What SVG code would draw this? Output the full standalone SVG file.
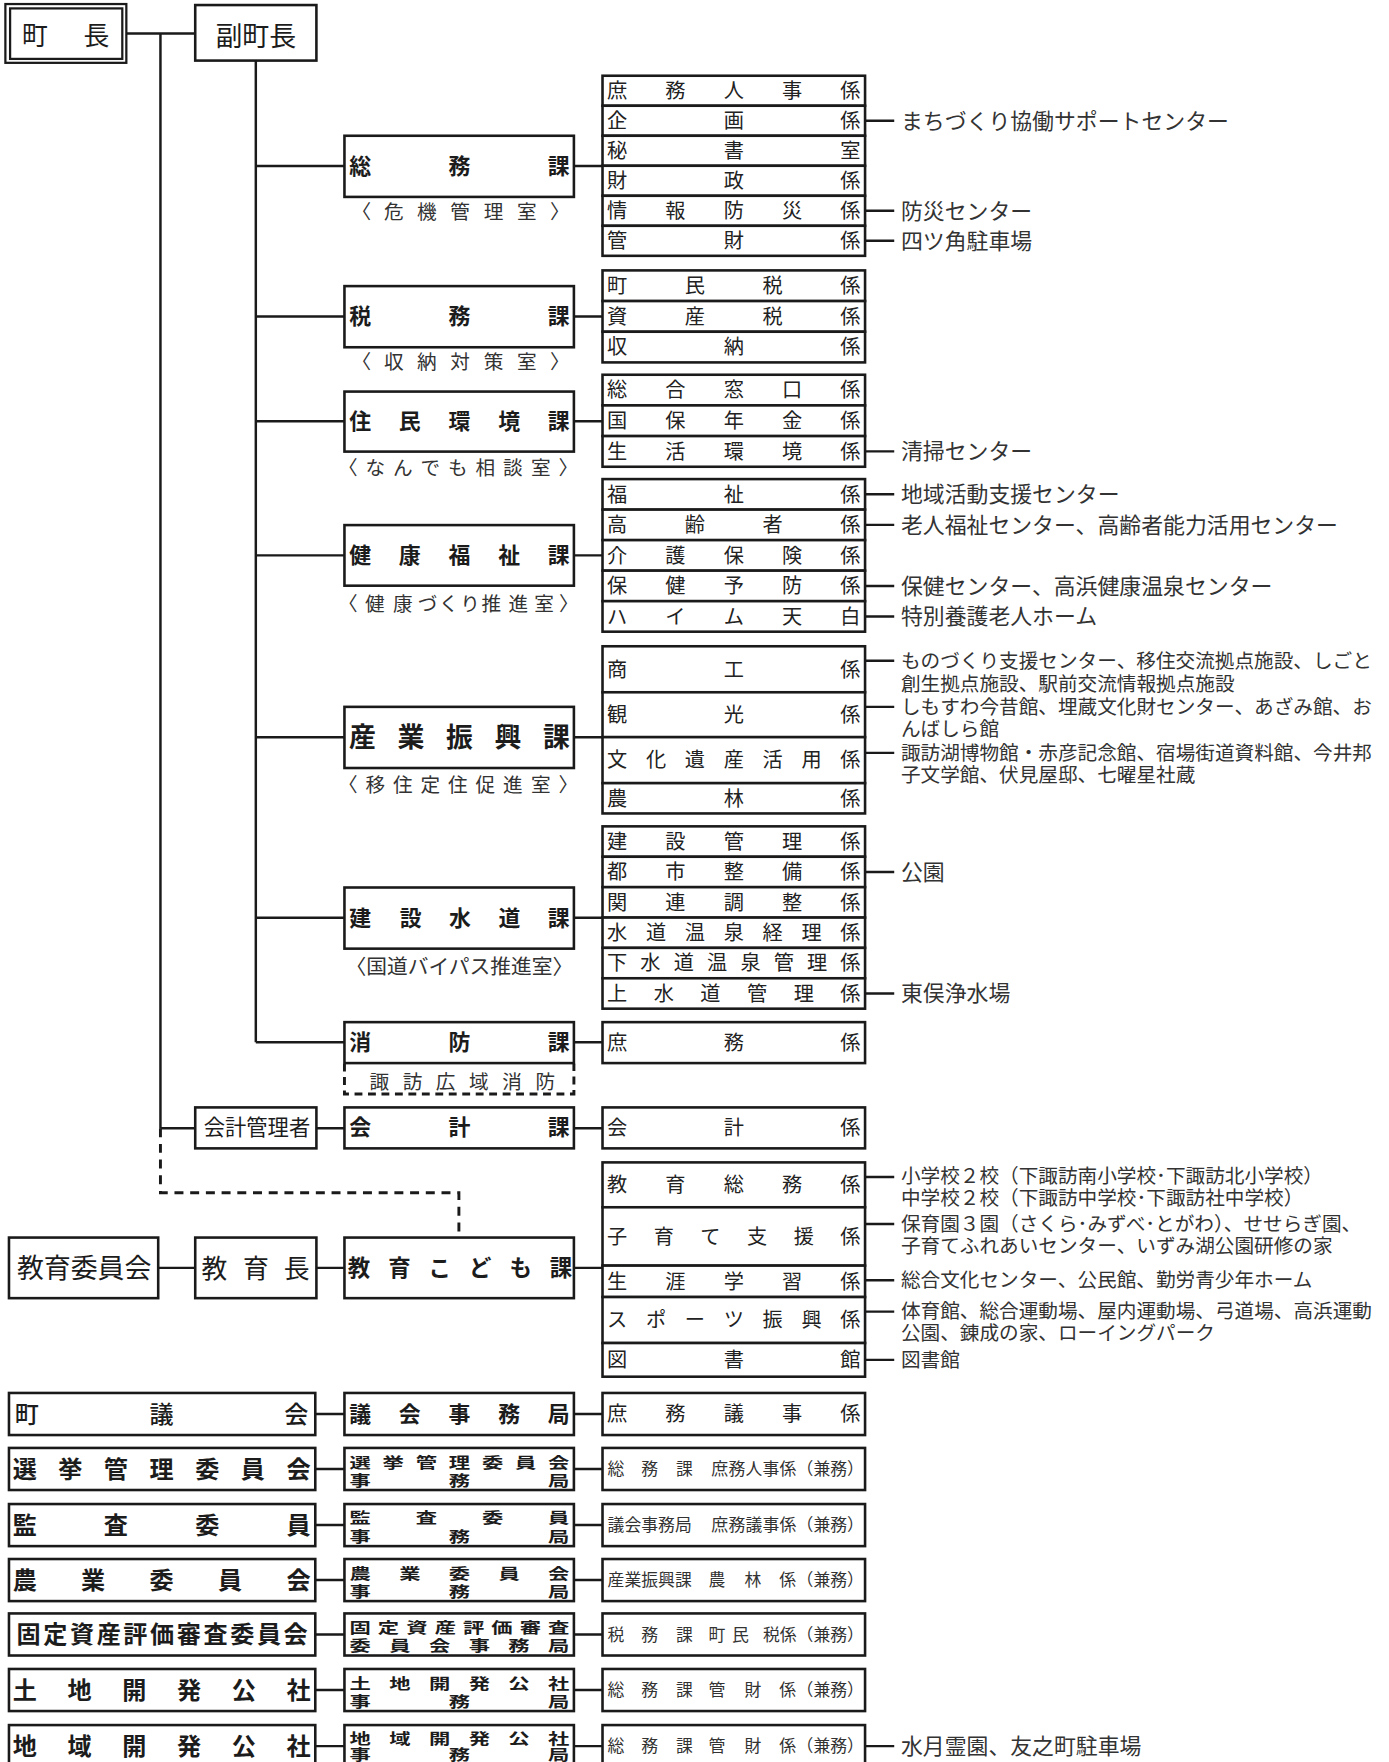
<svg xmlns="http://www.w3.org/2000/svg" width="1389" height="1762" viewBox="0 0 1389 1762">
<style>
text{font-family:"Noto Sans CJK JP","Noto Sans",sans-serif;fill:#1c1c1c}
.b{fill:#fff;stroke:#1a1a1a;stroke-width:2.3}
.ln{stroke:#1a1a1a;stroke-width:2.2;fill:none}
.dash{stroke:#1a1a1a;stroke-width:2.6;fill:none;stroke-dasharray:8 6}
.top{font-size:23px;text-anchor:middle}
.ka{font-size:19.5px;font-weight:700;text-anchor:middle}
.kb{font-size:24px;font-weight:700;text-anchor:middle}
.sub{font-size:17.5px;text-anchor:middle;fill:#333}
.kk{font-size:18px;text-anchor:middle;fill:#222}
.an{font-size:19.5px;fill:#333}
.am{font-size:17.5px;fill:#333}
.bl{font-size:21.5px;font-weight:700;text-anchor:middle}
.bm{font-size:19px;font-weight:700;text-anchor:middle}
.br{font-size:15px;fill:#333}
</style>
<rect width="1389" height="1762" fill="#fff"/>
<g transform="scale(1.122)">
<g id="connectors">
<path class="ln" d="M112.6 29.8H174M143 29.8V1005.5M143 1005.5H174M228 54V929
M228 148H307M228 282H307M228 375.5H307M228 495H307M228 657H307M228 818H307M228 929H307
M511 148H537M511 282H537M511 375.5H537M511 495H537M511 657H537M511 818H537M511 929H537
M282 1005.5H307M511 1005.5H537
M141 1130H174M282 1130H307M511 1130H537
M771 107.6H797M771 187.9H797M771 214.6H797M771 402.3H797M771 440.6H797M771 467.8H797M771 522.2H797M771 549.4H797
M771 589H797M771 630H797M771 671H797M771 777.1H797M771 885.5H797
M771 1049H797M771 1091H797M771 1141H797M771 1169H797M771 1212H797
M281 1260.25H307M511 1260.25H537M281 1309.25H307M511 1309.25H537M281 1359.25H307M511 1359.25H537
M281 1408.25H307M511 1408.25H537M281 1456.75H307M511 1456.75H537M281 1506.25H307M511 1506.25H537
M281 1556.25H307M511 1556.25H537M771 1556.25H797"/>
<path class="dash" d="M143 1005.5V1063H409V1103"/>
</g>

<g id="chocho">
<rect x="4.8" y="3.6" width="107.8" height="52.4" fill="#fff" stroke="#1a1a1a" stroke-width="2"/>
<rect x="9" y="7.5" width="100" height="45" fill="none" stroke="#1a1a1a" stroke-width="2"/>
<text class="top" x="31 86" y="40">町長</text>
</g>
<g id="fukuchocho">
<rect class="b" x="174" y="4.5" width="108" height="49.5"/>
<text class="top" x="228" y="41" style="font-size:24px">副町長</text>
</g>

<g id="somuka">
<rect class="b" x="307" y="121" width="204.5" height="54.5"/>
<text class="ka" x="321 409.5 498" y="155">総務課</text>
<text class="sub" x="322 351 380.5 410 440 469.5 499" y="195">〈危機管理室〉</text>
</g>
<g id="zeimuka">
<rect class="b" x="307" y="255" width="204.5" height="54.5"/>
<text class="ka" x="321 409.5 498" y="289">税務課</text>
<text class="sub" x="322 351 380.5 410 440 469.5 499" y="329">〈収納対策室〉</text>
</g>
<g id="jumin">
<rect class="b" x="307" y="349" width="204.5" height="53.5"/>
<text class="ka" x="321 365.25 409.5 453.75 498" y="382.5">住民環境課</text>
<text class="sub" x="310 334.5 359 383.5 408 432.5 457 482 506.5" y="423">〈なんでも相談室〉</text>
</g>
<g id="kenko">
<rect class="b" x="307" y="468" width="204.5" height="54"/>
<text class="ka" x="321 365.25 409.5 453.75 498" y="502">健康福祉課</text>
<text class="sub" x="310 334 359 381 400 419 438 462 485 507" y="545">〈健康づくり推進室〉</text>
</g>
<g id="sangyo">
<rect class="b" x="307" y="630" width="204.5" height="54.5"/>
<text class="kb" x="323 366.25 409.5 452.75 496" y="665.5">産業振興課</text>
<text class="sub" x="310 334.5 359 383.5 408 432.5 457 482 506.5" y="706">〈移住定住促進室〉</text>
</g>
<g id="kensetsu">
<rect class="b" x="307" y="791" width="204.5" height="54.5"/>
<text class="ka" x="321 366 410 454 498" y="825">建設水道課</text>
<text class="sub" x="409.5" y="868" style="font-size:18.5px">〈国道バイパス推進室〉</text>
</g>
<g id="shobo">
<rect class="b" x="307" y="911" width="204.5" height="36.5"/>
<text class="ka" x="321 409.5 498" y="936">消防課</text>
<path class="dash" d="M307 948V975H511.5V948" style="stroke-dasharray:7 5"/>
<text class="sub" x="338 367.6 397.2 426.8 456.4 486" y="971">諏訪広域消防</text>
</g>
<g id="kaikei-kanri">
<rect class="b" x="174" y="987" width="108" height="36.5"/>
<text x="229" y="1012" style="font-size:19px;text-anchor:middle">会計管理者</text>
</g>
<g id="kaikeika">
<rect class="b" x="307" y="987" width="204.5" height="36.5"/>
<text class="ka" x="321 409.5 498" y="1012">会計課</text>
</g>
<g id="kyoiku-iinkai">
<rect class="b" x="8" y="1103" width="133" height="54"/>
<text x="75" y="1139" style="font-size:24px;text-anchor:middle">教育委員会</text>
</g>
<g id="kyoikucho">
<rect class="b" x="174" y="1103" width="108" height="54"/>
<text x="191 228 264.5" y="1139" style="font-size:23px;text-anchor:middle">教育長</text>
</g>
<g id="kyoiku-kodomo">
<rect class="b" x="307" y="1103" width="204.5" height="54"/>
<text class="ka" x="320 356 392 428 464 500" y="1137.5" style="font-size:20px">教育こども課</text>
</g>

<g id="somu-kakari">
<rect class="b" x="537" y="67.5" width="234" height="26.75"/><text class="kk" x="550 602 654 706 758" y="87.4">庶務人事係</text>
<rect class="b" x="537" y="94.25" width="234" height="26.75"/><text class="kk" x="550 654 758" y="114.1">企画係</text>
<rect class="b" x="537" y="121" width="234" height="26.75"/><text class="kk" x="550 654 758" y="140.9">秘書室</text>
<rect class="b" x="537" y="147.75" width="234" height="26.75"/><text class="kk" x="550 654 758" y="167.6">財政係</text>
<rect class="b" x="537" y="174.5" width="234" height="26.75"/><text class="kk" x="550 602 654 706 758" y="194.4">情報防災係</text>
<rect class="b" x="537" y="201.25" width="234" height="26.75"/><text class="kk" x="550 654 758" y="221.1">管財係</text>
</g>
<g id="zeimu-kakari">
<rect class="b" x="537" y="241" width="234" height="27.33"/><text class="kk" x="550 619.3 688.7 758" y="261.2">町民税係</text>
<rect class="b" x="537" y="268.33" width="234" height="27.33"/><text class="kk" x="550 619.3 688.7 758" y="288.5">資産税係</text>
<rect class="b" x="537" y="295.67" width="234" height="27.33"/><text class="kk" x="550 654 758" y="315.8">収納係</text>
</g>
<g id="jumin-kakari">
<rect class="b" x="537" y="334" width="234" height="27.33"/><text class="kk" x="550 602 654 706 758" y="354.2">総合窓口係</text>
<rect class="b" x="537" y="361.33" width="234" height="27.33"/><text class="kk" x="550 602 654 706 758" y="381.5">国保年金係</text>
<rect class="b" x="537" y="388.67" width="234" height="27.33"/><text class="kk" x="550 602 654 706 758" y="408.8">生活環境係</text>
</g>
<g id="kenko-kakari">
<rect class="b" x="537" y="427" width="234" height="27.2"/><text class="kk" x="550 654 758" y="447.1">福祉係</text>
<rect class="b" x="537" y="454.2" width="234" height="27.2"/><text class="kk" x="550 619.3 688.7 758" y="474.3">高齢者係</text>
<rect class="b" x="537" y="481.4" width="234" height="27.2"/><text class="kk" x="550 602 654 706 758" y="501.5">介護保険係</text>
<rect class="b" x="537" y="508.6" width="234" height="27.2"/><text class="kk" x="550 602 654 706 758" y="528.7">保健予防係</text>
<rect class="b" x="537" y="535.8" width="234" height="27.2"/><text class="kk" x="550 602 654 706 758" y="555.9">ハイム天白</text>
</g>
<g id="sangyo-kakari">
<rect class="b" x="537" y="576" width="234" height="41"/><text class="kk" x="550 654 758" y="603">商工係</text>
<rect class="b" x="537" y="617" width="234" height="40"/><text class="kk" x="550 654 758" y="643.5">観光係</text>
<rect class="b" x="537" y="657" width="234" height="41"/><text class="kk" x="550 584.7 619.3 654 688.7 723.3 758" y="684">文化遺産活用係</text>
<rect class="b" x="537" y="698" width="234" height="27"/><text class="kk" x="550 654 758" y="718">農林係</text>
</g>
<g id="kensetsu-kakari">
<rect class="b" x="537" y="736.5" width="234" height="27.1"/><text class="kk" x="550 602 654 706 758" y="756.6">建設管理係</text>
<rect class="b" x="537" y="763.6" width="234" height="27.1"/><text class="kk" x="550 602 654 706 758" y="783.7">都市整備係</text>
<rect class="b" x="537" y="790.7" width="234" height="27.1"/><text class="kk" x="550 602 654 706 758" y="810.8">関連調整係</text>
<rect class="b" x="537" y="817.8" width="234" height="27"/><text class="kk" x="550 584.7 619.3 654 688.7 723.3 758" y="837.8">水道温泉経理係</text>
<rect class="b" x="537" y="844.8" width="234" height="27.1"/><text class="kk" x="550 579.7 609.4 639.1 668.9 698.6 728.3 758" y="864.9">下水道温泉管理係</text>
<rect class="b" x="537" y="871.9" width="234" height="27.1"/><text class="kk" x="550 591.6 633.2 674.8 716.4 758" y="892">上水道管理係</text>
</g>
<g id="shobo-kakari">
<rect class="b" x="537" y="911" width="234" height="36.5"/><text class="kk" x="550 654 758" y="935.5">庶務係</text>
</g>
<g id="kaikei-kakari">
<rect class="b" x="537" y="987" width="234" height="36.5"/><text class="kk" x="550 654 758" y="1011.5">会計係</text>
</g>
<g id="kyoiku-kakari">
<rect class="b" x="537" y="1036" width="234" height="40"/><text class="kk" x="550 602 654 706 758" y="1062.5">教育総務係</text>
<rect class="b" x="537" y="1076" width="234" height="52"/><text class="kk" x="550 591.6 633.2 674.8 716.4 758" y="1108.5">子育て支援係</text>
<rect class="b" x="537" y="1128" width="234" height="28"/><text class="kk" x="550 602 654 706 758" y="1148.5">生涯学習係</text>
<rect class="b" x="537" y="1156" width="234" height="41"/><text class="kk" x="550 584.7 619.3 654 688.7 723.3 758" y="1183">スポーツ振興係</text>
<rect class="b" x="537" y="1197" width="234" height="30"/><text class="kk" x="550 654 758" y="1218.5">図書館</text>
</g>

<g id="notes">
<text class="an" x="803" y="114.6">まちづくり協働サポートセンター</text>
<text class="an" x="803" y="194.9">防災センター</text>
<text class="an" x="803" y="221.6">四ツ角駐車場</text>
<text class="an" x="803" y="409.3">清掃センター</text>
<text class="an" x="803" y="447.6">地域活動支援センター</text>
<text class="an" x="803" y="474.8">老人福祉センター、高齢者能力活用センター</text>
<text class="an" x="803" y="529.2">保健センター、高浜健康温泉センター</text>
<text class="an" x="803" y="556.4">特別養護老人ホーム</text>
<text class="am"><tspan x="803" y="595">ものづくり支援センター、移住交流拠点施設、しごと</tspan><tspan x="803" y="615.5">創生拠点施設、駅前交流情報拠点施設</tspan></text>
<text class="am"><tspan x="803" y="636">しもすわ今昔館、埋蔵文化財センター、あざみ館、お</tspan><tspan x="803" y="656">んばしら館</tspan></text>
<text class="am"><tspan x="803" y="677">諏訪湖博物館・赤彦記念館、宿場街道資料館、今井邦</tspan><tspan x="803" y="697">子文学館、伏見屋邸、七曜星社蔵</tspan></text>
<text class="an" x="803" y="784.1">公園</text>
<text class="an" x="803" y="892.5">東俣浄水場</text>
<text class="am"><tspan x="803" y="1054.5">小学校２校（下諏訪南小学校･下諏訪北小学校）</tspan><tspan x="803" y="1074">中学校２校（下諏訪中学校･下諏訪社中学校）</tspan></text>
<text class="am"><tspan x="803" y="1097">保育園３園（さくら･みずべ･とがわ）、せせらぎ園、</tspan><tspan x="803" y="1117">子育てふれあいセンター、いずみ湖公園研修の家</tspan></text>
<text class="am" x="803" y="1147">総合文化センター、公民館、勤労青少年ホーム</text>
<text class="am"><tspan x="803" y="1175">体育館、総合運動場、屋内運動場、弓道場、高浜運動</tspan><tspan x="803" y="1194.5">公園、錬成の家、ローイングパーク</tspan></text>
<text class="am" x="803" y="1218">図書館</text>
<text class="an" x="803" y="1563.3">水月霊園、友之町駐車場</text>
</g>

<g id="gikai">
<rect class="b" x="8" y="1241.5" width="273" height="37.5"/>
<text class="bl" x="24 144 264" y="1268" style="font-weight:500">町議会</text>
</g>
<g id="gikai-jimukyoku">
<rect class="b" x="307" y="1241.5" width="204.5" height="37.5"/>
<text class="ka" x="321 365.25 409.5 453.75 498" y="1267">議会事務局</text>
</g>
<g id="gikai-kakari">
<rect class="b" x="537" y="1241.5" width="234" height="37.5"/>
<text class="kk" x="550 602 654 706 758" y="1266.7">庶務議事係</text>
</g>

<g id="senkyo">
<rect class="b" x="8" y="1290.5" width="273" height="37.5"/>
<text class="bl" x="22 62.7 103.3 144 184.7 225.3 266" y="1317">選挙管理委員会</text>
</g>
<g id="senkyo-jimukyoku">
<rect class="b" x="307" y="1290.5" width="204.5" height="37.5"/>
<text class="bm" transform="translate(0 1290.5) scale(1 0.7)"><tspan x="321 350.5 380 409.5 439 468.5 498" y="25">選挙管理委員会</tspan><tspan x="321 409.5 498" y="47.9">事務局</tspan></text>
</g>
<g id="senkyo-kenmu">
<rect class="b" x="537" y="1290.5" width="234" height="37.5"/>
<text class="br" x="541.5 571.5 602.5 634 649.2 664.4 679.6 694.8 710 725 740 755" y="1314.7">総務課庶務人事係（兼務）</text>
</g>

<g id="kansa">
<rect class="b" x="8" y="1340.5" width="273" height="37.5"/>
<text class="bl" x="22 103.3 184.7 266" y="1367">監査委員</text>
</g>
<g id="kansa-jimukyoku">
<rect class="b" x="307" y="1340.5" width="204.5" height="37.5"/>
<text class="bm" transform="translate(0 1340.5) scale(1 0.7)"><tspan x="321 380 439 498" y="23.6">監査委員</tspan><tspan x="321 409.5 498" y="47.9">事務局</tspan></text>
</g>
<g id="kansa-kenmu">
<rect class="b" x="537" y="1340.5" width="234" height="37.5"/>
<text class="br" x="541.5 556.5 571.5 586.5 601.5 634 649.2 664.4 679.6 694.8 710 725 740 755" y="1364.7">議会事務局庶務議事係（兼務）</text>
</g>

<g id="nogyo">
<rect class="b" x="8" y="1389.5" width="273" height="37.5"/>
<text class="bl" x="22 83 144 205 266" y="1416">農業委員会</text>
</g>
<g id="nogyo-jimukyoku">
<rect class="b" x="307" y="1389.5" width="204.5" height="37.5"/>
<text class="bm" transform="translate(0 1389.5) scale(1 0.7)"><tspan x="321 365.25 409.5 453.75 498" y="25">農業委員会</tspan><tspan x="321 409.5 498" y="47.9">事務局</tspan></text>
</g>
<g id="nogyo-kenmu">
<rect class="b" x="537" y="1389.5" width="234" height="37.5"/>
<text class="br" x="541.5 556.5 571.5 586.5 601.5 631.5 663.5 694.5 710 725 740 755" y="1413.7">産業振興課農林係（兼務）</text>
</g>

<g id="kotei">
<rect class="b" x="8" y="1438" width="273" height="37.5"/>
<text class="bl" x="25.5 49.3 73.1 96.9 120.7 144.5 168.3 192.1 215.9 239.7 263.5" y="1464.5">固定資産評価審査委員会</text>
</g>
<g id="kotei-jimukyoku">
<rect class="b" x="307" y="1438" width="204.5" height="37.5"/>
<text class="bm" transform="translate(0 1438) scale(1 0.7)"><tspan x="321 346.3 371.6 396.9 422.1 447.4 472.7 498" y="25">固定資産評価審査</tspan><tspan x="321 356.4 391.8 427.2 462.6 498" y="47.9">委員会事務局</tspan></text>
</g>
<g id="kotei-kenmu">
<rect class="b" x="537" y="1438" width="234" height="37.5"/>
<text class="br" x="541.5 571.5 602.5 631.5 652.5 680 695 710 725 740 755" y="1462.2">税務課町民税係（兼務）</text>
</g>

<g id="tochi">
<rect class="b" x="8" y="1487.5" width="273" height="37.5"/>
<text class="bl" x="22 70.8 119.6 168.4 217.2 266" y="1514">土地開発公社</text>
</g>
<g id="tochi-jimukyoku">
<rect class="b" x="307" y="1487.5" width="204.5" height="37.5"/>
<text class="bm" transform="translate(0 1487.5) scale(1 0.7)"><tspan x="321 356.4 391.8 427.2 462.6 498" y="25">土地開発公社</tspan><tspan x="321 409.5 498" y="47.9">事務局</tspan></text>
</g>
<g id="tochi-kenmu">
<rect class="b" x="537" y="1487.5" width="234" height="37.5"/>
<text class="br" x="541.5 571.5 602.5 631.5 663.5 694.5 710 725 740 755" y="1511.7">総務課管財係（兼務）</text>
</g>

<g id="chiiki">
<rect class="b" x="8" y="1537.5" width="273" height="37.5"/>
<text class="bl" x="22 70.8 119.6 168.4 217.2 266" y="1564">地域開発公社</text>
</g>
<g id="chiiki-jimukyoku">
<rect class="b" x="307" y="1537.5" width="204.5" height="37.5"/>
<text class="bm" transform="translate(0 1537.5) scale(1 0.7)"><tspan x="321 356.4 391.8 427.2 462.6 498" y="24">地域開発公社</tspan><tspan x="321 409.5 498" y="44.5">事務局</tspan></text>
</g>
<g id="chiiki-kenmu">
<rect class="b" x="537" y="1537.5" width="234" height="37.5"/>
<text class="br" x="541.5 571.5 602.5 631.5 663.5 694.5 710 725 740 755" y="1561.7">総務課管財係（兼務）</text>
</g>
</g>
</svg>
